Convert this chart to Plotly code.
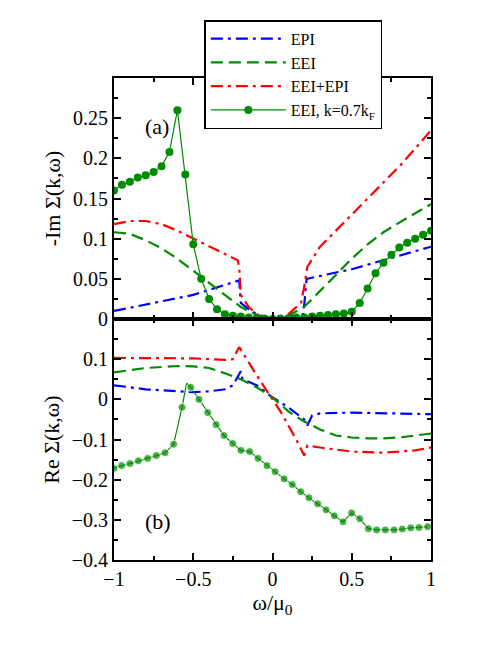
import plotly.graph_objects as go
from plotly.subplots import make_subplots

# ---- top panel (-Im Sigma) ----
im_epi_x = [-1, -0.5, -0.21, -0.2, -0.15, -0.1, 0, 0.1, 0.195, 0.215, 0.5, 1]
im_epi_y = [0.01, 0.03, 0.048, 0.02, 0.012, 0.006, 0, 0.003, 0.006, 0.05, 0.062, 0.09]
im_eei_x = [-1, -0.9, -0.8, -0.7, -0.6, -0.5, -0.4, -0.3, -0.2, -0.1, 0, 0.1, 0.2, 0.3, 0.4, 0.5, 0.6, 0.7, 0.8, 0.9, 1]
im_eei_y = [0.108, 0.106, 0.098, 0.088, 0.075, 0.06, 0.045, 0.03, 0.015, 0.005, 0, 0.004, 0.015, 0.035, 0.055, 0.075, 0.093, 0.108, 0.12, 0.132, 0.143]
im_tot_x = [-1, -0.9, -0.8, -0.7, -0.6, -0.5, -0.4, -0.3, -0.22, -0.21, -0.2, -0.15, -0.1, 0, 0.1, 0.18, 0.2, 0.22, 0.3, 0.4, 0.5, 0.6, 0.7, 0.8, 0.9, 1]
im_tot_y = [0.118, 0.122, 0.122, 0.118, 0.11, 0.1, 0.09, 0.08, 0.073, 0.065, 0.03, 0.015, 0.006, 0, 0.006, 0.02, 0.04, 0.065, 0.09, 0.11, 0.13, 0.15, 0.17, 0.19, 0.212, 0.235]
im_k_x = [-1, -0.95, -0.9, -0.85, -0.8, -0.75, -0.7, -0.65, -0.6, -0.55, -0.5, -0.45, -0.4, -0.35, -0.3, -0.25, -0.2, -0.15, -0.1, -0.05, 0,
          0.05, 0.1, 0.15, 0.2, 0.25, 0.3, 0.35, 0.4, 0.45, 0.5, 0.55, 0.6, 0.65, 0.7, 0.75, 0.8, 0.85, 0.9, 0.95, 1.0]
im_k_y = [0.16, 0.167, 0.171, 0.176, 0.179, 0.183, 0.19, 0.208, 0.26, 0.18, 0.093, 0.05, 0.025, 0.012, 0.006, 0.004, 0.003, 0.002, 0.001, 0.0005, 0,
          0.0005, 0.001, 0.002, 0.002, 0.003, 0.004, 0.005, 0.006, 0.007, 0.009, 0.02, 0.038, 0.057, 0.07, 0.08, 0.089, 0.095, 0.1, 0.105, 0.11]

# ---- bottom panel (Re Sigma) ----
re_epi_x = [-1, -0.8, -0.6, -0.5, -0.4, -0.3, -0.25, -0.2, -0.19, -0.1, 0, 0.1, 0.2, 0.22, 0.25, 0.3, 0.5, 0.7, 1]
re_epi_y = [0.035, 0.025, 0.02, 0.018, 0.02, 0.025, 0.035, 0.07, 0.05, 0.035, 0.005, -0.02, -0.05, -0.065, -0.04, -0.035, -0.033, -0.035, -0.037]
re_eei_x = [-1, -0.8, -0.6, -0.5, -0.4, -0.3, -0.2, -0.1, 0, 0.1, 0.2, 0.3, 0.4, 0.5, 0.6, 0.7, 0.8, 0.9, 1]
re_eei_y = [0.067, 0.078, 0.083, 0.082, 0.078, 0.065, 0.05, 0.03, 0.005, -0.03, -0.055, -0.075, -0.09, -0.095, -0.097, -0.097, -0.095, -0.09, -0.085]
re_tot_x = [-1, -0.5, -0.3, -0.25, -0.21, -0.15, -0.1, -0.05, 0, 0.05, 0.1, 0.15, 0.2, 0.22, 0.3, 0.5, 0.7, 0.9, 1]
re_tot_y = [0.103, 0.102, 0.098, 0.1, 0.13, 0.09, 0.06, 0.03, 0, -0.03, -0.065, -0.1, -0.14, -0.115, -0.12, -0.13, -0.133, -0.127, -0.12]
re_k_x = [-1, -0.952, -0.899, -0.846, -0.788, -0.733, -0.678, -0.624, -0.571, -0.542, -0.516, -0.464, -0.409, -0.356, -0.306, -0.251, -0.199,
          -0.144, -0.091, -0.035, 0.016, 0.073, 0.125, 0.178, 0.230, 0.285, 0.338, 0.390, 0.445, 0.499, 0.550, 0.605, 0.657, 0.712, 0.767,
          0.819, 0.872, 0.924, 0.979]
re_k_y = [-0.172, -0.165, -0.16, -0.153, -0.147, -0.14, -0.133, -0.112, -0.02, 0.04, 0.03, 0.0, -0.033, -0.063, -0.09, -0.11, -0.127,
          -0.13, -0.147, -0.165, -0.18, -0.198, -0.212, -0.23, -0.245, -0.26, -0.275, -0.29, -0.305, -0.283, -0.297, -0.322, -0.325, -0.325,
          -0.325, -0.323, -0.32, -0.319, -0.317]
re_k_size = [8 if i != 9 else 0 for i in range(len(re_k_x))]

BLUE, GREEN, RED = "#0000ff", "#008c00", "#ff0000"
FONT = "Liberation Serif"
DASH = "12px,6px"
DASHDOT = "12px,5px,3px,5px"

fig = make_subplots(rows=2, cols=1, shared_xaxes=True, vertical_spacing=0)

def add(x, y, color, dash, name, row, show, mode="lines", msize=8):
    fig.add_trace(go.Scatter(x=x, y=y, mode=mode, name=name, showlegend=show,
                             line=dict(color=color, dash=dash, width=2.2 if mode == "lines" else 1.2),
                             marker=dict(color=color, size=msize)),
                  row=row, col=1)

add(im_epi_x, im_epi_y, BLUE, DASHDOT, "EPI", 1, True)
add(im_eei_x, im_eei_y, GREEN, DASH, "EEI", 1, True)
add(im_tot_x, im_tot_y, RED, DASHDOT, "EEI+EPI", 1, True)
add(im_k_x, im_k_y, GREEN, "solid", "EEI, k=0.7k<sub>F</sub>", 1, True, mode="lines+markers")
fig.add_hline(y=0, line=dict(color="#cccccc", dash="dash", width=1), row=2, col=1, layer="below")
add(re_epi_x, re_epi_y, BLUE, DASHDOT, "EPI", 2, False)
add(re_eei_x, re_eei_y, GREEN, DASH, "EEI", 2, False)
add(re_tot_x, re_tot_y, RED, DASHDOT, "EEI+EPI", 2, False)
add(re_k_x, re_k_y, GREEN, "solid", "EEI k", 2, False, mode="lines+markers", msize=re_k_size)

ax = dict(showline=True, linecolor="black", linewidth=2, mirror="ticks", ticks="inside",
          ticklen=7, tickwidth=1.5, tickcolor="black", showgrid=False, zeroline=False,
          tickfont=dict(family=FONT, size=20, color="black"),
          minor=dict(ticks="inside", ticklen=4, tickcolor="black"))
fig.update_xaxes(**ax, range=[-1, 1], dtick=0.5, minor_dtick=0.25)
fig.update_xaxes(title=dict(text="ω/μ<sub>0</sub>", font=dict(family=FONT, size=22), standoff=4), row=2, col=1)
fig.update_yaxes(**ax)
fig.update_yaxes(range=[0, 0.3], minor_dtick=0.025, tickvals=[0, 0.05, 0.1, 0.15, 0.2, 0.25],
                 ticktext=["0", "0.05", "0.1", "0.15", "0.2", "0.25"],
                 title=dict(text="-Im Σ(k,ω)", font=dict(family=FONT, size=22), standoff=6), row=1, col=1)
fig.update_yaxes(range=[-0.4, 0.2], tickvals=[-0.4, -0.3, -0.2, -0.1, 0, 0.1], minor_dtick=0.05,
                 title=dict(text="Re Σ(k,ω)", font=dict(family=FONT, size=22), standoff=6), row=2, col=1)

fig.add_annotation(text="(a)", xref="x domain", yref="y domain", x=0.09, y=0.86, showarrow=False,
                   font=dict(family=FONT, size=22, color="black"))
fig.add_annotation(text="(b)", xref="x2 domain", yref="y2 domain", x=0.09, y=0.1, showarrow=False,
                   font=dict(family=FONT, size=22, color="black"))

fig.update_layout(width=485, height=658, margin=dict(l=106, r=62, t=57, b=106),
                  plot_bgcolor="white", paper_bgcolor="white",
                  font=dict(family=FONT, color="black"),
                  legend=dict(x=0.285, y=1.12, xanchor="left", yanchor="top", bgcolor="white",
                              bordercolor="black", borderwidth=1.5, tracegroupgap=0, itemwidth=75,
                              font=dict(family=FONT, size=16)))
fig.write_html("out.html")
